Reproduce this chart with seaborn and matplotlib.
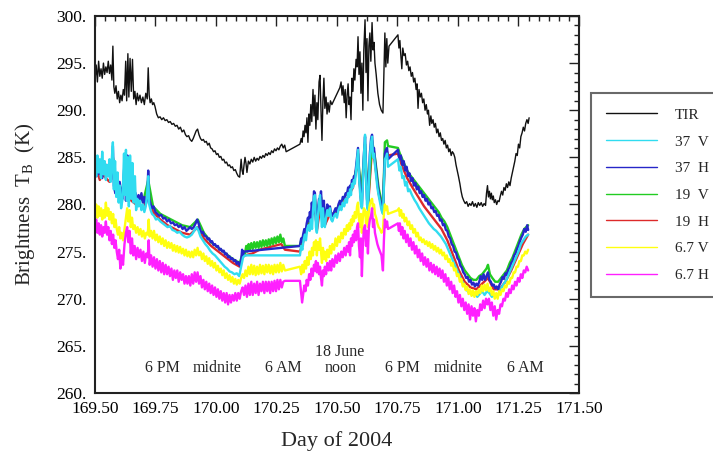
import pandas as pd
import matplotlib
matplotlib.use("Agg")
import matplotlib.pyplot as plt
from matplotlib.ticker import MultipleLocator, FuncFormatter
import seaborn as sns

# ---- data: (day of 2004, brightness temperature K) ----
TIR = [
    (169.500, 293.2), (169.505, 294.8), (169.510, 293.0), (169.515, 295.2), (169.520, 293.6),
    (169.525, 294.4), (169.530, 293.4), (169.535, 295.0), (169.540, 293.8), (169.545, 294.6),
    (169.550, 294.0), (169.555, 295.2), (169.560, 293.9), (169.565, 294.8), (169.570, 293.2),
    (169.574, 296.8), (169.578, 292.5), (169.582, 291.8), (169.587, 292.6), (169.592, 291.2),
    (169.597, 292.0), (169.602, 290.8), (169.607, 291.6), (169.612, 291.0), (169.617, 292.2),
    (169.622, 291.6), (169.627, 295.2), (169.631, 291.0), (169.636, 296.0), (169.640, 291.4),
    (169.645, 295.5), (169.650, 292.0), (169.655, 295.4), (169.660, 291.2), (169.665, 292.0),
    (169.670, 290.6), (169.675, 291.8), (169.680, 291.0), (169.686, 291.6), (169.692, 290.8),
    (169.698, 291.4), (169.704, 290.6), (169.710, 291.8), (169.716, 291.2), (169.720, 294.5),
    (169.724, 291.6), (169.728, 290.8), (169.733, 291.2), (169.738, 290.6), (169.743, 290.8),
    (169.748, 290.4), (169.755, 289.6), (169.762, 289.2), (169.769, 289.3), (169.776, 289.0),
    (169.783, 289.2), (169.790, 288.9), (169.797, 289.0), (169.804, 288.7), (169.811, 288.8),
    (169.818, 288.5), (169.825, 288.6), (169.832, 288.3), (169.839, 288.4), (169.846, 288.0),
    (169.853, 288.2), (169.860, 287.7), (169.867, 287.9), (169.874, 287.4), (169.880, 287.2),
    (169.887, 287.3), (169.893, 286.9), (169.900, 286.7), (169.906, 287.0), (169.912, 287.4),
    (169.918, 287.8), (169.924, 288.0), (169.930, 287.4), (169.936, 287.0), (169.942, 286.8),
    (169.948, 286.9), (169.954, 286.6), (169.960, 286.7), (169.966, 286.3), (169.972, 286.5),
    (169.978, 286.0), (169.984, 285.9), (169.990, 285.6), (169.996, 285.7), (170.002, 285.3),
    (170.008, 285.4), (170.014, 285.0), (170.020, 285.1), (170.026, 284.7), (170.032, 284.8),
    (170.038, 284.4), (170.044, 284.5), (170.050, 284.1), (170.056, 284.2), (170.062, 283.9),
    (170.068, 284.0), (170.074, 283.6), (170.080, 283.7), (170.086, 283.3), (170.092, 283.0),
    (170.098, 282.9), (170.104, 284.8), (170.108, 283.6), (170.112, 283.2), (170.116, 284.2),
    (170.120, 285.0), (170.124, 284.4), (170.128, 283.4), (170.134, 284.6), (170.140, 284.3),
    (170.146, 284.8), (170.152, 284.5), (170.158, 285.0), (170.164, 284.6), (170.170, 284.9),
    (170.176, 284.7), (170.182, 285.1), (170.188, 284.9), (170.194, 285.2), (170.200, 285.0),
    (170.206, 285.4), (170.212, 285.2), (170.218, 285.5), (170.224, 285.3), (170.230, 285.7),
    (170.236, 285.5), (170.242, 285.9), (170.248, 285.7), (170.254, 286.0), (170.260, 285.8),
    (170.266, 286.2), (170.272, 286.4), (170.278, 286.0), (170.284, 286.3), (170.290, 285.6),
    (170.347, 286.4), (170.352, 287.0), (170.356, 286.6), (170.360, 287.8), (170.364, 287.2),
    (170.368, 288.4), (170.372, 287.6), (170.376, 289.2), (170.380, 286.6), (170.384, 289.6),
    (170.388, 288.4), (170.392, 290.6), (170.396, 288.8), (170.401, 292.2), (170.405, 289.4),
    (170.409, 291.6), (170.413, 288.0), (170.417, 290.8), (170.421, 289.0), (170.426, 293.0),
    (170.430, 293.7), (170.434, 290.0), (170.438, 286.8), (170.442, 291.0), (170.446, 293.4),
    (170.450, 290.2), (170.455, 291.4), (170.459, 289.6), (170.463, 290.8), (170.468, 289.8),
    (170.473, 291.0), (170.479, 290.6), (170.512, 292.4), (170.517, 293.0), (170.521, 291.6),
    (170.525, 292.6), (170.530, 290.8), (170.534, 292.2), (170.538, 289.2), (170.542, 291.6),
    (170.546, 292.8), (170.550, 290.6), (170.554, 291.4), (170.558, 289.0), (170.562, 293.4),
    (170.566, 292.0), (170.570, 294.4), (170.574, 293.2), (170.579, 295.4), (170.583, 294.6),
    (170.587, 297.8), (170.591, 293.8), (170.595, 296.2), (170.599, 291.8), (170.603, 295.0),
    (170.607, 290.0), (170.611, 296.4), (170.616, 299.6), (170.620, 294.0), (170.624, 297.6),
    (170.628, 291.0), (170.632, 296.8), (170.636, 298.2), (170.640, 295.2), (170.645, 299.3),
    (170.649, 296.4), (170.653, 297.2), (170.657, 295.0), (170.662, 293.8), (170.669, 291.8),
    (170.676, 290.6), (170.683, 290.0), (170.690, 289.7), (170.694, 294.0), (170.698, 298.2),
    (170.702, 294.6), (170.706, 297.6), (170.710, 295.0), (170.715, 296.8), (170.752, 298.0),
    (170.756, 296.6), (170.760, 297.4), (170.764, 295.8), (170.768, 294.4), (170.772, 296.6),
    (170.777, 295.8), (170.782, 296.0), (170.787, 294.8), (170.792, 295.2), (170.797, 294.2),
    (170.802, 294.6), (170.807, 293.6), (170.812, 294.0), (170.817, 293.0), (170.822, 293.4),
    (170.827, 292.2), (170.831, 292.8), (170.835, 290.2), (170.839, 292.2), (170.844, 291.4),
    (170.849, 291.8), (170.854, 290.8), (170.859, 291.2), (170.864, 290.0), (170.869, 290.6),
    (170.874, 289.6), (170.878, 290.0), (170.883, 288.4), (170.888, 289.4), (170.892, 288.6),
    (170.897, 289.0), (170.902, 288.2), (170.907, 288.6), (170.912, 287.6), (170.917, 288.0),
    (170.922, 287.2), (170.927, 287.6), (170.932, 286.8), (170.937, 287.0), (170.942, 286.4),
    (170.947, 286.8), (170.952, 286.0), (170.957, 286.3), (170.962, 285.6), (170.967, 285.9),
    (170.972, 285.2), (170.977, 285.6), (170.982, 285.4), (170.987, 285.0), (170.992, 284.2),
    (170.997, 283.6), (171.002, 283.0), (171.008, 282.2), (171.013, 281.4), (171.018, 280.8),
    (171.024, 280.4), (171.030, 280.1), (171.036, 280.3), (171.042, 279.8), (171.048, 280.1),
    (171.054, 279.9), (171.060, 280.3), (171.066, 279.8), (171.072, 280.1), (171.078, 279.7),
    (171.084, 280.2), (171.090, 279.9), (171.096, 280.2), (171.102, 279.8), (171.108, 280.1),
    (171.114, 279.9), (171.118, 281.2), (171.122, 282.0), (171.126, 280.8), (171.130, 281.4),
    (171.134, 280.6), (171.138, 281.2), (171.142, 280.5), (171.146, 280.9), (171.150, 280.2),
    (171.155, 280.5), (171.160, 280.0), (171.165, 280.4), (171.170, 280.3), (171.175, 280.9),
    (171.180, 281.4), (171.185, 281.0), (171.190, 281.8), (171.195, 281.5), (171.200, 282.2),
    (171.205, 281.8), (171.210, 282.4), (171.215, 282.0), (171.220, 282.8), (171.225, 283.4),
    (171.230, 284.0), (171.235, 284.6), (171.240, 285.4), (171.245, 285.2), (171.250, 286.4),
    (171.255, 286.0), (171.260, 287.2), (171.265, 287.6), (171.270, 288.2), (171.275, 287.8),
    (171.280, 288.6), (171.285, 289.0), (171.290, 288.6), (171.294, 289.2),
]

V37 = [
    (169.500, 284.6), (169.505, 283.0), (169.510, 285.2), (169.515, 283.4), (169.520, 284.8),
    (169.525, 282.8), (169.530, 285.6), (169.535, 283.2), (169.540, 284.6), (169.545, 282.6),
    (169.550, 284.2), (169.555, 283.0), (169.560, 284.8), (169.565, 282.4), (169.570, 285.0),
    (169.574, 286.6), (169.578, 281.6), (169.583, 284.6), (169.588, 280.8), (169.593, 283.4),
    (169.598, 280.2), (169.603, 282.0), (169.608, 279.6), (169.614, 280.6), (169.620, 285.4),
    (169.624, 281.0), (169.628, 285.8), (169.632, 280.4), (169.636, 285.0), (169.640, 279.8),
    (169.645, 285.2), (169.650, 280.6), (169.655, 284.4), (169.660, 280.2), (169.665, 283.0),
    (169.670, 279.4), (169.675, 280.6), (169.680, 279.8), (169.686, 280.4), (169.692, 279.4),
    (169.698, 280.0), (169.704, 279.2), (169.710, 279.8), (169.715, 281.0), (169.720, 283.0),
    (169.724, 280.0), (169.730, 279.4), (169.736, 279.0), (169.744, 278.8), (169.752, 278.4),
    (169.760, 278.5), (169.770, 278.2), (169.780, 278.0), (169.790, 277.8), (169.800, 277.6),
    (169.810, 277.7), (169.820, 277.3), (169.830, 277.2), (169.840, 277.0), (169.850, 277.1),
    (169.860, 276.8), (169.870, 276.6), (169.880, 276.5), (169.890, 276.6), (169.900, 276.8),
    (169.910, 277.2), (169.920, 277.6), (169.928, 277.2), (169.936, 276.6), (169.946, 276.2),
    (169.956, 275.8), (169.966, 275.5), (169.976, 275.1), (169.986, 274.8), (169.996, 274.6),
    (170.006, 274.3), (170.016, 274.0), (170.026, 273.7), (170.036, 273.4), (170.046, 273.2),
    (170.056, 272.9), (170.066, 272.8), (170.076, 272.6), (170.086, 272.7), (170.096, 272.4),
    (170.104, 273.4), (170.112, 274.4), (170.120, 274.6), (170.347, 274.6), (170.352, 275.6),
    (170.357, 275.2), (170.362, 276.2), (170.367, 276.8), (170.372, 276.2), (170.377, 277.4),
    (170.382, 277.8), (170.387, 277.2), (170.392, 278.4), (170.397, 277.4), (170.401, 279.4),
    (170.405, 280.8), (170.409, 281.0), (170.413, 277.6), (170.417, 277.0), (170.421, 278.6),
    (170.426, 280.2), (170.430, 281.0), (170.434, 279.0), (170.438, 277.6), (170.442, 279.6),
    (170.446, 278.0), (170.450, 277.6), (170.455, 278.6), (170.460, 279.4), (170.466, 278.8),
    (170.471, 279.6), (170.476, 278.4), (170.481, 278.2), (170.488, 278.8), (170.494, 279.0),
    (170.500, 278.6), (170.506, 279.4), (170.512, 279.8), (170.518, 279.4), (170.524, 280.2),
    (170.530, 279.8), (170.536, 280.6), (170.541, 280.2), (170.546, 281.2), (170.550, 280.8),
    (170.554, 281.6), (170.558, 281.0), (170.562, 282.2), (170.566, 281.8), (170.570, 282.6),
    (170.574, 282.2), (170.579, 283.6), (170.583, 284.8), (170.587, 285.8), (170.591, 283.0),
    (170.595, 281.4), (170.599, 280.0), (170.603, 279.6), (170.607, 282.0), (170.611, 285.0),
    (170.616, 287.4), (170.620, 283.2), (170.624, 280.0), (170.628, 279.4), (170.632, 282.4),
    (170.636, 285.0), (170.641, 286.6), (170.645, 287.2), (170.649, 285.0), (170.653, 285.4),
    (170.657, 284.2), (170.662, 283.0), (170.667, 281.8), (170.672, 281.0), (170.678, 280.2),
    (170.684, 279.4), (170.690, 279.0), (170.694, 282.0), (170.698, 284.8), (170.702, 285.0),
    (170.707, 285.4), (170.711, 284.0), (170.752, 284.8), (170.758, 283.6), (170.764, 284.0),
    (170.770, 282.8), (170.776, 283.0), (170.782, 282.0), (170.788, 282.4), (170.794, 281.4),
    (170.800, 281.6), (170.810, 281.0), (170.820, 280.5), (170.830, 280.1), (170.840, 279.6),
    (170.850, 279.2), (170.860, 278.8), (170.870, 278.4), (170.880, 278.0), (170.890, 277.7),
    (170.900, 277.4), (170.910, 277.2), (170.920, 276.9), (170.930, 276.6), (170.940, 276.2),
    (170.950, 275.8), (170.960, 275.2), (170.970, 274.6), (170.980, 274.0), (170.990, 273.4),
    (171.000, 272.8), (171.010, 272.2), (171.020, 271.7), (171.030, 271.2), (171.040, 270.8),
    (171.050, 270.6), (171.060, 270.4), (171.070, 270.6), (171.080, 270.2), (171.090, 270.5),
    (171.100, 270.8), (171.110, 270.4), (171.120, 270.8), (171.130, 270.6), (171.140, 270.2),
    (171.150, 270.4), (171.160, 270.2), (171.170, 270.6), (171.180, 271.2), (171.190, 271.6),
    (171.200, 272.0), (171.210, 272.6), (171.220, 273.2), (171.230, 273.8), (171.240, 274.4),
    (171.250, 275.0), (171.260, 275.8), (171.270, 276.2), (171.280, 276.6), (171.290, 276.8),
]

H37 = [
    (169.500, 284.0), (169.506, 283.0), (169.512, 284.8), (169.518, 283.2), (169.524, 284.4),
    (169.530, 282.8), (169.536, 284.6), (169.542, 283.4), (169.548, 284.2), (169.554, 283.0),
    (169.560, 284.4), (169.566, 282.6), (169.574, 286.2), (169.578, 282.0), (169.584, 281.2),
    (169.590, 282.6), (169.596, 280.8), (169.602, 282.4), (169.608, 281.4), (169.614, 280.6),
    (169.618, 282.8), (169.624, 285.0), (169.628, 280.4), (169.634, 285.2), (169.638, 281.0),
    (169.644, 284.6), (169.650, 280.8), (169.656, 281.6), (169.662, 280.4), (169.668, 281.2),
    (169.674, 280.2), (169.680, 281.0), (169.686, 280.4), (169.692, 281.2), (169.698, 280.2),
    (169.704, 280.8), (169.710, 280.0), (169.716, 280.6), (169.720, 283.6), (169.724, 280.6),
    (169.730, 280.0), (169.736, 279.6), (169.742, 279.8), (169.750, 279.2), (169.758, 279.0),
    (169.766, 278.8), (169.774, 278.9), (169.782, 278.5), (169.790, 278.6), (169.798, 278.2),
    (169.806, 278.4), (169.814, 278.0), (169.822, 278.1), (169.830, 277.8), (169.838, 277.9),
    (169.846, 277.6), (169.854, 277.8), (169.862, 277.4), (169.870, 277.6), (169.878, 277.2),
    (169.886, 277.4), (169.893, 277.6), (169.900, 277.4), (169.908, 277.6), (169.916, 278.0),
    (169.922, 278.4), (169.928, 278.0), (169.934, 277.4), (169.940, 277.0), (169.946, 277.1),
    (169.952, 276.7), (169.960, 276.6), (169.966, 276.3), (169.972, 276.4), (169.978, 276.0),
    (169.984, 276.1), (169.990, 275.7), (169.996, 275.8), (170.002, 275.5), (170.008, 275.6),
    (170.014, 275.2), (170.020, 275.3), (170.026, 275.0), (170.032, 275.1), (170.038, 274.7),
    (170.044, 274.8), (170.050, 274.4), (170.056, 274.5), (170.062, 274.2), (170.068, 274.3),
    (170.074, 274.0), (170.080, 274.1), (170.086, 273.7), (170.092, 273.9), (170.098, 273.5),
    (170.104, 274.0), (170.108, 275.2), (170.112, 274.6), (170.116, 275.0), (170.347, 275.6),
    (170.352, 276.4), (170.356, 276.0), (170.360, 276.8), (170.365, 277.4), (170.370, 277.0),
    (170.375, 278.0), (170.380, 278.6), (170.384, 278.2), (170.388, 279.2), (170.392, 278.6),
    (170.396, 280.2), (170.401, 279.0), (170.405, 281.4), (170.409, 281.2), (170.413, 278.4),
    (170.417, 277.4), (170.421, 279.4), (170.426, 280.6), (170.430, 280.2), (170.434, 281.4),
    (170.438, 279.6), (170.442, 278.0), (170.446, 280.4), (170.450, 277.8), (170.455, 279.0),
    (170.460, 280.0), (170.465, 279.6), (170.471, 279.8), (170.476, 279.0), (170.481, 278.8),
    (170.488, 279.2), (170.494, 279.6), (170.500, 279.2), (170.506, 280.0), (170.512, 280.4),
    (170.518, 280.0), (170.524, 280.8), (170.530, 280.6), (170.536, 281.2), (170.541, 281.0),
    (170.546, 281.8), (170.550, 281.4), (170.554, 282.0), (170.558, 281.6), (170.562, 282.6),
    (170.566, 282.2), (170.570, 283.0), (170.574, 282.8), (170.579, 284.0), (170.583, 285.0),
    (170.587, 286.0), (170.591, 283.6), (170.595, 282.0), (170.599, 280.8), (170.603, 279.8),
    (170.607, 282.6), (170.611, 285.2), (170.616, 287.2), (170.620, 284.0), (170.624, 280.6),
    (170.628, 279.6), (170.632, 283.0), (170.636, 285.4), (170.641, 287.0), (170.645, 287.4),
    (170.649, 285.6), (170.653, 286.0), (170.657, 284.8), (170.662, 283.6), (170.667, 282.4),
    (170.672, 281.4), (170.678, 280.6), (170.684, 279.8), (170.690, 279.4), (170.694, 282.6),
    (170.698, 285.4), (170.702, 285.8), (170.707, 286.0), (170.711, 284.8), (170.752, 285.8),
    (170.758, 284.8), (170.764, 285.2), (170.770, 284.2), (170.776, 284.6), (170.782, 283.6),
    (170.788, 284.0), (170.794, 283.0), (170.800, 283.3), (170.806, 282.5), (170.812, 282.8),
    (170.818, 282.0), (170.824, 282.3), (170.830, 281.6), (170.836, 281.9), (170.842, 281.2),
    (170.848, 281.4), (170.854, 280.8), (170.860, 281.0), (170.866, 280.4), (170.872, 280.6),
    (170.878, 280.0), (170.884, 280.2), (170.890, 279.6), (170.896, 279.7), (170.902, 279.2),
    (170.908, 279.3), (170.914, 278.8), (170.920, 278.9), (170.926, 278.3), (170.932, 278.4),
    (170.938, 277.8), (170.944, 277.9), (170.950, 277.3), (170.956, 277.2), (170.962, 276.6),
    (170.968, 276.4), (170.974, 275.8), (170.980, 275.6), (170.986, 275.0), (170.992, 274.9),
    (170.998, 274.3), (171.004, 274.1), (171.010, 273.5), (171.016, 273.3), (171.022, 272.8),
    (171.028, 272.6), (171.034, 272.2), (171.040, 272.3), (171.046, 271.8), (171.052, 272.0),
    (171.058, 271.5), (171.064, 271.7), (171.070, 271.3), (171.076, 271.6), (171.082, 271.4),
    (171.088, 271.8), (171.094, 272.4), (171.100, 272.0), (171.106, 272.6), (171.112, 272.0),
    (171.118, 272.4), (171.124, 272.8), (171.130, 272.0), (171.136, 271.8), (171.142, 271.4),
    (171.148, 271.5), (171.154, 271.1), (171.160, 271.3), (171.166, 271.0), (171.172, 271.5),
    (171.178, 271.8), (171.184, 272.3), (171.190, 272.1), (171.196, 272.7), (171.202, 272.5),
    (171.208, 273.1), (171.214, 273.3), (171.220, 273.8), (171.226, 274.0), (171.232, 274.6),
    (171.238, 274.8), (171.244, 275.3), (171.250, 275.6), (171.256, 276.1), (171.262, 276.5),
    (171.268, 276.8), (171.274, 277.4), (171.280, 277.1), (171.286, 277.8), (171.290, 277.3),
]

V19 = [
    (169.500, 283.6), (169.520, 283.4), (169.540, 283.6), (169.560, 283.2), (169.574, 285.0),
    (169.590, 282.0), (169.610, 281.4), (169.630, 283.0), (169.650, 281.0), (169.670, 280.6),
    (169.700, 280.4), (169.720, 282.6), (169.740, 279.8), (169.770, 279.0), (169.800, 278.6),
    (169.830, 278.2), (169.860, 277.8), (169.893, 277.6), (169.925, 278.4), (169.950, 277.0),
    (169.980, 276.0), (170.010, 275.4), (170.040, 274.8), (170.070, 274.2), (170.098, 273.8),
    (170.108, 274.6), (170.120, 274.8), (170.125, 275.6), (170.130, 275.0), (170.135, 275.8),
    (170.140, 275.2), (170.146, 275.9), (170.152, 275.3), (170.158, 276.0), (170.164, 275.4),
    (170.170, 276.0), (170.176, 275.4), (170.182, 276.1), (170.188, 275.5), (170.194, 276.2),
    (170.200, 275.6), (170.206, 276.2), (170.212, 275.6), (170.218, 276.3), (170.224, 275.7),
    (170.230, 276.4), (170.236, 275.8), (170.242, 276.5), (170.248, 275.9), (170.254, 276.6),
    (170.260, 276.0), (170.266, 276.8), (170.272, 276.0), (170.278, 276.4), (170.285, 275.6),
    (170.347, 275.6), (170.352, 276.2), (170.360, 276.6), (170.370, 277.0), (170.380, 278.2),
    (170.390, 278.8), (170.401, 279.8), (170.409, 280.6), (170.417, 277.8), (170.426, 280.0),
    (170.434, 280.8), (170.442, 278.6), (170.450, 278.2), (170.460, 279.6), (170.471, 279.4),
    (170.481, 278.8), (170.494, 279.4), (170.506, 279.8), (170.518, 280.2), (170.530, 280.8),
    (170.541, 281.2), (170.554, 281.8), (170.566, 282.4), (170.579, 283.6), (170.587, 285.4),
    (170.599, 280.8), (170.616, 286.4), (170.628, 280.0), (170.645, 286.8), (170.657, 285.0),
    (170.672, 281.8), (170.690, 279.6), (170.698, 286.6), (170.707, 286.8), (170.711, 286.2),
    (170.752, 286.0), (170.760, 285.4), (170.770, 284.8), (170.780, 284.2), (170.790, 283.6),
    (170.800, 283.2), (170.812, 282.8), (170.824, 282.4), (170.836, 282.0), (170.848, 281.6),
    (170.860, 281.2), (170.872, 280.8), (170.884, 280.4), (170.896, 280.0), (170.908, 279.6),
    (170.920, 279.2), (170.932, 278.6), (170.944, 278.2), (170.956, 277.6), (170.968, 276.8),
    (170.980, 276.0), (170.992, 275.2), (171.004, 274.4), (171.016, 273.6), (171.028, 273.0),
    (171.040, 272.6), (171.052, 272.2), (171.064, 272.0), (171.076, 272.0), (171.088, 272.4),
    (171.100, 272.6), (171.112, 273.0), (171.118, 273.2), (171.124, 273.6), (171.132, 272.6),
    (171.142, 272.2), (171.154, 271.8), (171.166, 271.8), (171.178, 272.2), (171.190, 272.6),
    (171.202, 273.0), (171.214, 273.8), (171.226, 274.4), (171.238, 275.2), (171.250, 276.0),
    (171.262, 276.8), (171.274, 277.4), (171.290, 277.8),
]

H19 = [
    (169.500, 283.0), (169.510, 283.4), (169.520, 282.6), (169.530, 283.2), (169.545, 282.8),
    (169.560, 282.4), (169.574, 284.2), (169.590, 281.4), (169.610, 280.8), (169.630, 282.0),
    (169.650, 280.4), (169.670, 280.0), (169.700, 279.8), (169.720, 281.6), (169.740, 279.2),
    (169.770, 278.4), (169.800, 277.8), (169.830, 277.4), (169.860, 277.0), (169.893, 276.8),
    (169.925, 277.6), (169.950, 276.4), (169.980, 275.6), (170.010, 275.0), (170.040, 274.4),
    (170.070, 273.8), (170.098, 273.4), (170.108, 274.4), (170.120, 274.6), (170.150, 274.8),
    (170.180, 275.2), (170.210, 275.4), (170.240, 275.6), (170.270, 275.8), (170.285, 275.2),
    (170.347, 275.0), (170.360, 276.0), (170.380, 277.6), (170.401, 279.2), (170.409, 280.0),
    (170.417, 277.2), (170.434, 280.2), (170.450, 277.8), (170.471, 279.0), (170.494, 279.0),
    (170.518, 279.8), (170.541, 280.6), (170.566, 281.8), (170.587, 284.8), (170.599, 280.4),
    (170.616, 285.6), (170.628, 279.6), (170.645, 286.0), (170.657, 284.4), (170.672, 281.2),
    (170.690, 279.2), (170.698, 285.0), (170.707, 285.6), (170.711, 285.2), (170.752, 285.4),
    (170.770, 284.0), (170.790, 282.8), (170.812, 281.8), (170.836, 280.8), (170.860, 279.8),
    (170.884, 279.0), (170.908, 278.2), (170.932, 277.4), (170.956, 276.2), (170.980, 274.6),
    (171.004, 273.0), (171.028, 271.8), (171.052, 271.2), (171.076, 271.0), (171.100, 271.6),
    (171.124, 272.2), (171.148, 271.0), (171.172, 271.0), (171.196, 271.8), (171.220, 273.0),
    (171.244, 274.4), (171.268, 275.8), (171.290, 276.8),
]

V67 = [
    (169.500, 279.0), (169.505, 280.0), (169.510, 278.6), (169.515, 279.8), (169.520, 278.8),
    (169.525, 279.6), (169.530, 278.4), (169.535, 279.4), (169.540, 278.6), (169.545, 280.2),
    (169.550, 278.8), (169.555, 279.6), (169.560, 278.4), (169.565, 279.2), (169.570, 278.0),
    (169.575, 279.0), (169.580, 277.6), (169.585, 278.4), (169.590, 277.4), (169.595, 276.8),
    (169.600, 277.6), (169.605, 276.4), (169.610, 277.0), (169.616, 276.2), (169.622, 277.4),
    (169.628, 278.6), (169.633, 279.6), (169.638, 278.2), (169.643, 279.4), (169.648, 277.6),
    (169.653, 278.6), (169.658, 277.4), (169.664, 277.8), (169.670, 277.0), (169.676, 277.6),
    (169.682, 276.8), (169.688, 277.4), (169.694, 276.6), (169.700, 277.2), (169.706, 276.4),
    (169.712, 277.0), (169.718, 276.8), (169.722, 278.4), (169.726, 276.6), (169.732, 277.2),
    (169.738, 276.4), (169.744, 277.2), (169.750, 276.2), (169.756, 276.8), (169.762, 276.0),
    (169.768, 276.6), (169.774, 275.8), (169.780, 276.4), (169.786, 275.6), (169.792, 276.2),
    (169.798, 275.4), (169.804, 276.0), (169.810, 275.4), (169.816, 275.9), (169.822, 275.1),
    (169.828, 275.7), (169.834, 275.0), (169.840, 275.6), (169.846, 274.9), (169.852, 275.5),
    (169.858, 274.8), (169.864, 275.3), (169.870, 274.6), (169.876, 275.2), (169.882, 274.5),
    (169.888, 275.0), (169.894, 274.4), (169.900, 275.0), (169.906, 274.4), (169.912, 275.2),
    (169.918, 274.6), (169.924, 275.4), (169.930, 274.6), (169.936, 275.0), (169.942, 274.2),
    (169.948, 274.8), (169.954, 274.0), (169.960, 274.5), (169.966, 273.7), (169.972, 274.3),
    (169.978, 273.5), (169.984, 274.0), (169.990, 273.3), (169.996, 273.8), (170.002, 273.0),
    (170.008, 273.5), (170.014, 272.8), (170.020, 273.2), (170.026, 272.5), (170.032, 273.0),
    (170.038, 272.2), (170.044, 272.7), (170.050, 272.0), (170.056, 272.5), (170.062, 271.8),
    (170.068, 272.3), (170.074, 271.6), (170.080, 272.1), (170.086, 271.5), (170.092, 272.0),
    (170.098, 271.6), (170.104, 272.2), (170.110, 272.6), (170.116, 272.2), (170.122, 273.0),
    (170.128, 272.4), (170.134, 273.4), (170.140, 272.6), (170.146, 273.6), (170.152, 272.6),
    (170.158, 273.5), (170.164, 272.5), (170.170, 273.4), (170.176, 272.6), (170.182, 273.6),
    (170.188, 272.7), (170.194, 273.5), (170.200, 272.6), (170.206, 273.6), (170.212, 272.8),
    (170.218, 273.6), (170.224, 272.7), (170.230, 273.5), (170.236, 272.6), (170.242, 273.6),
    (170.248, 272.8), (170.254, 273.6), (170.260, 272.8), (170.266, 273.8), (170.272, 272.9),
    (170.278, 273.6), (170.285, 273.0), (170.347, 273.4), (170.352, 272.6), (170.357, 273.6),
    (170.362, 272.8), (170.367, 274.0), (170.372, 273.2), (170.377, 274.4), (170.382, 273.6),
    (170.387, 275.0), (170.392, 274.2), (170.397, 275.4), (170.401, 274.6), (170.405, 276.0),
    (170.409, 275.2), (170.413, 276.2), (170.417, 274.6), (170.421, 276.0), (170.426, 275.2),
    (170.430, 276.4), (170.434, 275.0), (170.438, 273.8), (170.442, 275.4), (170.446, 274.2),
    (170.450, 275.0), (170.455, 274.0), (170.460, 275.2), (170.466, 274.4), (170.471, 275.6),
    (170.476, 274.8), (170.481, 275.8), (170.488, 275.2), (170.494, 276.4), (170.500, 275.6),
    (170.506, 276.6), (170.512, 276.0), (170.518, 277.0), (170.524, 276.4), (170.530, 277.4),
    (170.536, 276.8), (170.541, 277.8), (170.546, 277.2), (170.550, 278.0), (170.554, 277.4),
    (170.558, 278.4), (170.562, 277.8), (170.566, 278.8), (170.570, 278.2), (170.574, 279.2),
    (170.579, 278.6), (170.583, 279.8), (170.587, 280.2), (170.591, 278.4), (170.595, 277.6),
    (170.599, 279.0), (170.603, 277.0), (170.607, 278.6), (170.611, 279.6), (170.616, 279.4),
    (170.620, 278.0), (170.624, 279.2), (170.628, 277.6), (170.632, 279.4), (170.636, 280.0),
    (170.641, 280.4), (170.645, 280.6), (170.649, 279.6), (170.653, 280.0), (170.657, 279.0),
    (170.662, 278.6), (170.667, 278.0), (170.672, 277.6), (170.678, 277.4), (170.684, 277.0),
    (170.690, 277.2), (170.694, 279.0), (170.698, 280.0), (170.702, 279.4), (170.707, 279.8),
    (170.711, 279.0), (170.752, 279.4), (170.756, 279.6), (170.760, 278.8), (170.765, 279.4),
    (170.770, 278.6), (170.775, 279.0), (170.780, 278.2), (170.786, 278.6), (170.792, 277.8),
    (170.798, 278.2), (170.804, 277.4), (170.810, 277.8), (170.816, 277.0), (170.822, 277.4),
    (170.828, 276.6), (170.834, 277.0), (170.840, 276.2), (170.846, 276.5), (170.852, 276.0),
    (170.858, 276.3), (170.864, 275.8), (170.870, 276.1), (170.876, 275.6), (170.882, 276.0),
    (170.888, 275.4), (170.894, 275.8), (170.900, 275.2), (170.906, 275.6), (170.912, 275.0),
    (170.918, 275.4), (170.924, 274.8), (170.930, 275.2), (170.936, 274.6), (170.942, 274.9),
    (170.948, 274.2), (170.954, 274.6), (170.960, 273.9), (170.966, 274.2), (170.972, 273.5),
    (170.978, 273.8), (170.984, 273.0), (170.990, 273.2), (170.996, 272.4), (171.002, 272.6),
    (171.008, 271.8), (171.014, 272.1), (171.020, 271.3), (171.026, 271.6), (171.032, 270.9),
    (171.038, 271.3), (171.044, 270.5), (171.050, 271.0), (171.056, 270.3), (171.062, 270.9),
    (171.068, 270.2), (171.074, 270.8), (171.080, 270.4), (171.086, 271.0), (171.092, 270.6),
    (171.098, 271.4), (171.104, 270.8), (171.110, 271.5), (171.116, 270.9), (171.122, 271.6),
    (171.128, 270.8), (171.134, 271.2), (171.140, 270.4), (171.146, 270.8), (171.152, 270.0),
    (171.158, 270.6), (171.164, 270.0), (171.170, 270.8), (171.176, 270.4), (171.182, 271.0),
    (171.188, 270.8), (171.194, 271.4), (171.200, 271.2), (171.206, 271.8), (171.212, 271.6),
    (171.218, 272.2), (171.224, 272.2), (171.230, 272.8), (171.236, 272.8), (171.242, 273.4),
    (171.248, 273.4), (171.254, 274.0), (171.260, 274.0), (171.266, 274.6), (171.272, 274.6),
    (171.278, 275.0), (171.284, 274.8), (171.290, 275.2),
]

H67 = [
    (169.500, 277.4), (169.505, 278.4), (169.510, 277.0), (169.515, 278.0), (169.520, 276.8),
    (169.525, 277.8), (169.530, 276.6), (169.535, 277.6), (169.540, 277.0), (169.545, 278.2),
    (169.550, 276.8), (169.555, 277.6), (169.560, 276.2), (169.565, 277.2), (169.570, 275.8),
    (169.575, 276.8), (169.580, 275.4), (169.585, 276.2), (169.590, 275.0), (169.595, 274.2),
    (169.600, 275.2), (169.605, 273.2), (169.610, 274.6), (169.616, 273.6), (169.622, 275.8),
    (169.628, 277.0), (169.633, 277.6), (169.638, 276.0), (169.643, 277.2), (169.648, 274.8),
    (169.653, 276.4), (169.658, 274.6), (169.664, 275.6), (169.670, 274.2), (169.676, 275.4),
    (169.682, 274.4), (169.688, 275.2), (169.694, 274.0), (169.700, 275.0), (169.706, 273.8),
    (169.712, 274.8), (169.718, 274.4), (169.722, 276.2), (169.726, 273.6), (169.732, 274.6),
    (169.738, 273.4), (169.744, 274.4), (169.750, 273.2), (169.756, 274.2), (169.762, 273.0),
    (169.768, 274.0), (169.774, 272.8), (169.780, 273.8), (169.786, 272.6), (169.792, 273.6),
    (169.798, 272.6), (169.804, 273.4), (169.810, 272.4), (169.816, 273.2), (169.822, 272.0),
    (169.828, 273.0), (169.834, 272.2), (169.840, 273.0), (169.846, 271.8), (169.852, 272.8),
    (169.858, 272.0), (169.864, 272.6), (169.870, 271.6), (169.876, 272.4), (169.882, 271.6),
    (169.888, 272.4), (169.894, 271.4), (169.900, 272.6), (169.906, 271.6), (169.912, 272.8),
    (169.918, 271.8), (169.924, 272.8), (169.930, 271.6), (169.936, 272.4), (169.942, 271.2),
    (169.948, 272.0), (169.954, 271.0), (169.960, 271.8), (169.966, 270.8), (169.972, 271.6),
    (169.978, 270.6), (169.984, 271.4), (169.990, 270.4), (169.996, 271.2), (170.002, 270.2),
    (170.008, 271.0), (170.014, 270.0), (170.020, 270.8), (170.026, 269.8), (170.032, 270.6),
    (170.038, 269.6), (170.044, 270.6), (170.050, 269.4), (170.056, 270.4), (170.062, 269.6),
    (170.068, 270.4), (170.074, 269.8), (170.080, 270.6), (170.086, 269.8), (170.092, 270.6),
    (170.098, 270.0), (170.104, 270.8), (170.110, 271.2), (170.116, 270.4), (170.122, 271.4),
    (170.128, 270.2), (170.134, 271.6), (170.140, 270.4), (170.146, 271.8), (170.152, 270.4),
    (170.158, 271.6), (170.164, 270.6), (170.170, 271.8), (170.176, 270.4), (170.182, 271.6),
    (170.188, 270.8), (170.194, 271.8), (170.200, 270.6), (170.206, 271.8), (170.212, 270.8),
    (170.218, 271.8), (170.224, 270.6), (170.230, 271.8), (170.236, 270.8), (170.242, 271.9),
    (170.248, 270.8), (170.254, 272.0), (170.260, 271.0), (170.266, 272.0), (170.272, 271.2),
    (170.278, 271.8), (170.285, 271.9), (170.347, 271.9), (170.352, 270.6), (170.356, 269.6),
    (170.360, 270.4), (170.365, 271.4), (170.370, 270.8), (170.375, 272.0), (170.380, 271.4),
    (170.385, 272.6), (170.390, 272.0), (170.395, 273.2), (170.400, 272.4), (170.405, 273.6),
    (170.409, 273.0), (170.413, 274.0), (170.417, 272.8), (170.421, 273.8), (170.426, 272.6),
    (170.430, 273.4), (170.434, 272.2), (170.438, 271.4), (170.442, 273.0), (170.446, 272.4),
    (170.450, 273.4), (170.455, 272.6), (170.460, 273.8), (170.466, 273.0), (170.471, 274.0),
    (170.476, 273.0), (170.481, 274.2), (170.488, 273.4), (170.494, 274.6), (170.500, 273.8),
    (170.506, 274.8), (170.512, 274.0), (170.518, 275.0), (170.524, 274.4), (170.530, 275.4),
    (170.536, 274.6), (170.541, 275.6), (170.546, 275.0), (170.550, 276.0), (170.554, 274.6),
    (170.558, 276.4), (170.562, 275.6), (170.566, 276.8), (170.570, 276.0), (170.574, 277.2),
    (170.579, 276.2), (170.583, 277.6), (170.587, 278.0), (170.591, 275.6), (170.595, 274.4),
    (170.599, 276.4), (170.603, 272.4), (170.607, 275.6), (170.611, 277.4), (170.616, 277.8),
    (170.620, 275.6), (170.624, 277.2), (170.628, 274.8), (170.632, 277.6), (170.636, 278.4),
    (170.641, 278.8), (170.645, 279.6), (170.649, 277.6), (170.653, 278.4), (170.657, 277.0),
    (170.662, 276.4), (170.667, 275.8), (170.672, 275.4), (170.678, 275.0), (170.684, 274.6),
    (170.690, 273.0), (170.694, 276.2), (170.698, 278.4), (170.702, 277.6), (170.707, 278.2),
    (170.711, 277.4), (170.752, 278.0), (170.756, 277.2), (170.760, 278.0), (170.765, 276.8),
    (170.770, 277.6), (170.775, 276.4), (170.780, 277.2), (170.786, 276.0), (170.792, 276.8),
    (170.798, 275.6), (170.804, 276.4), (170.810, 275.2), (170.816, 276.0), (170.822, 274.8),
    (170.828, 275.6), (170.834, 274.4), (170.840, 275.2), (170.846, 274.0), (170.852, 274.8),
    (170.858, 273.6), (170.864, 274.4), (170.870, 273.4), (170.876, 274.2), (170.882, 273.0),
    (170.888, 273.8), (170.894, 272.8), (170.900, 273.6), (170.906, 272.6), (170.912, 273.4),
    (170.918, 272.4), (170.924, 273.2), (170.930, 272.2), (170.936, 273.0), (170.942, 271.8),
    (170.948, 272.6), (170.954, 271.4), (170.960, 272.2), (170.966, 271.0), (170.972, 271.8),
    (170.978, 270.6), (170.984, 271.4), (170.990, 270.2), (170.996, 270.8), (171.002, 269.6),
    (171.008, 270.4), (171.014, 269.2), (171.020, 270.0), (171.026, 268.8), (171.032, 269.6),
    (171.038, 268.4), (171.044, 269.4), (171.050, 267.8), (171.056, 269.2), (171.062, 268.2),
    (171.068, 269.0), (171.074, 267.6), (171.080, 268.8), (171.086, 268.2), (171.092, 269.4),
    (171.098, 268.8), (171.104, 269.8), (171.110, 269.0), (171.116, 270.0), (171.122, 269.4),
    (171.128, 270.0), (171.134, 268.8), (171.140, 269.6), (171.146, 268.2), (171.152, 269.2),
    (171.158, 267.8), (171.164, 268.8), (171.170, 268.4), (171.176, 269.4), (171.182, 269.2),
    (171.188, 270.0), (171.194, 269.8), (171.200, 270.6), (171.206, 270.2), (171.212, 271.0),
    (171.218, 270.6), (171.224, 271.4), (171.230, 271.0), (171.236, 271.8), (171.242, 271.4),
    (171.248, 272.2), (171.254, 271.8), (171.260, 272.6), (171.266, 272.2), (171.272, 273.0),
    (171.278, 272.8), (171.284, 273.4), (171.290, 273.0),
]

CHANNELS = ["TIR", "37  V", "37  H", "19  V", "19  H", "6.7 V", "6.7 H"]
SERIES = [TIR, V37, H37, V19, H19, V67, H67]
COLORS = ["#111111", "#30dcf0", "#2626c8", "#22cc22", "#dd2a2a", "#ffff10", "#ff20ff"]
# drawing order (back to front), legend keeps CHANNELS order
DRAW_ORDER = ["19  H", "19  V", "37  H", "37  V", "6.7 V", "6.7 H", "TIR"]

TIME_LABELS = ["6 PM", "midnite", "6 AM", "noon", "6 PM", "midnite", "6 AM"]
TIME_POS = [169.777, 170.004, 170.277, 170.517, 170.770, 171.000, 171.280]

# ---- build a long table ----
frames = []
for name, pts in zip(CHANNELS, SERIES):
    d = pd.DataFrame(pts, columns=["day", "tb"])
    d["channel"] = name
    frames.append(d)
df = pd.concat(frames, ignore_index=True)

sns.set_style("white")
plt.rcParams["font.family"] = ["Liberation Serif", "DejaVu Serif"]
plt.rcParams["mathtext.fontset"] = "custom"
plt.rcParams["mathtext.rm"] = "Liberation Serif"
plt.rcParams["mathtext.it"] = "Liberation Serif:italic"

fig = plt.figure(figsize=(7.13, 4.53), dpi=100)
ax = fig.add_axes([0.1332, 0.1325, 0.6788, 0.8322])

color_of = dict(zip(CHANNELS, COLORS))
for name in DRAW_ORDER:
    lw = 1.0 if name == "TIR" else 1.7
    sns.lineplot(data=df[df["channel"] == name], x="day", y="tb", color=color_of[name],
                 lw=lw, sort=False, estimator=None, label=name, ax=ax)

ax.set_xlim(169.5, 171.5)
ax.set_ylim(260, 300)
ax.xaxis.set_major_locator(MultipleLocator(0.25))
ax.xaxis.set_minor_locator(MultipleLocator(1 / 24))
ax.yaxis.set_major_locator(MultipleLocator(5))
ax.yaxis.set_minor_locator(MultipleLocator(1))
ax.xaxis.set_major_formatter(FuncFormatter(lambda v, p: f"{v:.2f}"))
ax.yaxis.set_major_formatter(FuncFormatter(lambda v, p: f"{v:.0f}."))
ax.tick_params(which="both", direction="in", top=True, right=True, colors="#222222",
               labelcolor="black", labelsize=12.5, width=1.0)
ax.tick_params(which="major", length=7, pad=6)
ax.tick_params(which="minor", length=3.5)
for s in ax.spines.values():
    s.set_linewidth(1.5)
    s.set_color("#222222")

ax.set_xlabel("Day of 2004", fontsize=16, labelpad=10)
ax.set_ylabel(r"Brightness  T$_{\rm B}$  (K)", fontsize=15, labelpad=14)

for lab, pos in zip(TIME_LABELS, TIME_POS):
    ax.text(pos, 262.6, lab, ha="center", va="center", fontsize=11.5)
ax.text(170.512, 264.4, "18 June", ha="center", va="center", fontsize=11.5)

handles, labels = ax.get_legend_handles_labels()
lookup = dict(zip(labels, handles))
if ax.get_legend() is not None:
    ax.get_legend().remove()
leg = fig.legend([lookup[c] for c in CHANNELS], CHANNELS, loc="upper left",
                 bbox_to_anchor=(0.829, 0.795), fontsize=11, frameon=True, fancybox=False,
                 handlelength=3.3, handletextpad=1.2, labelspacing=0.85, borderpad=1.0,
                 borderaxespad=0)
leg.get_frame().set_edgecolor("#444444")
leg.get_frame().set_linewidth(1.5)
for ln in leg.get_lines():
    ln.set_linewidth(1.0)

fig.savefig("out.png", dpi=100)
